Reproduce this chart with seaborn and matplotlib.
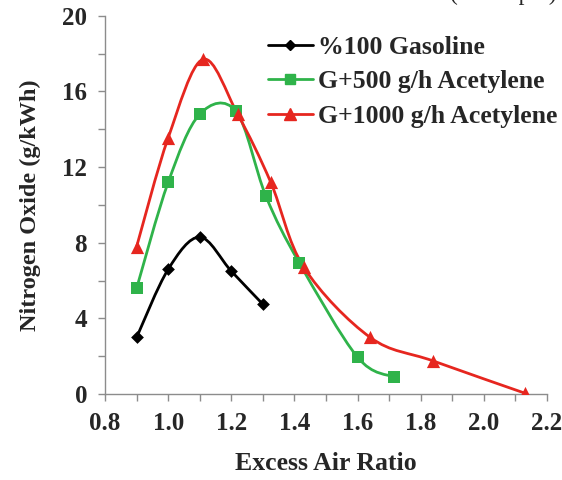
import numpy as np
import pandas as pd
import seaborn as sn
import matplotlib.pyplot as plt
from matplotlib.path import Path
from matplotlib.patches import PathPatch
from matplotlib.lines import Line2D
from matplotlib.ticker import MultipleLocator

# excess air ratio / NOx (g/kWh)
gasoline_x = [0.90, 1.00, 1.10, 1.20, 1.30]
gasoline_y = [3.0, 6.6, 8.3, 6.5, 4.75]

g500_x = [0.90, 1.00, 1.10, 1.215, 1.31, 1.415, 1.60, 1.715]
g500_y = [5.6, 11.2, 14.8, 14.95, 10.45, 6.95, 1.95, 0.9]

g1000_x = [0.90, 1.00, 1.11, 1.22, 1.325, 1.43, 1.64, 1.84, 2.13]
g1000_y = [7.8, 13.55, 17.7, 14.8, 11.2, 6.7, 3.0, 1.75, 0.05]

series = ['%100 Gasoline', 'G+500 g/h Acetylene', 'G+1000 g/h Acetylene']
colors = ['black', '#2fb34a', '#e6261f']
markers = ['D', 's', '^']
msizes = [6.5, 8.5, 9.5]


def smooth_path(x, y):
    # excel style smoothed line: cubic bezier, catmull-rom tangents
    pts = np.column_stack([x, y])
    verts = [pts[0]]
    codes = [Path.MOVETO]
    n = len(pts)
    for i in range(n - 1):
        p0 = pts[i - 1] if i > 0 else pts[i]
        p1, p2 = pts[i], pts[i + 1]
        p3 = pts[i + 2] if i + 2 < n else pts[i + 1]
        verts += [p1 + (p2 - p0) / 6, p2 - (p3 - p1) / 6, p2]
        codes += [Path.CURVE4] * 3
    return Path(verts, codes)


df = pd.concat([
    pd.DataFrame({'ratio': gasoline_x, 'nox': gasoline_y, 'fuel': series[0]}),
    pd.DataFrame({'ratio': g500_x, 'nox': g500_y, 'fuel': series[1]}),
    pd.DataFrame({'ratio': g1000_x, 'nox': g1000_y, 'fuel': series[2]}),
])

sn.set_style('white')
plt.rcParams['font.family'] = ['Liberation Serif', 'DejaVu Serif']

fig = plt.figure(figsize=(5.62, 4.80), dpi=100)
ax = fig.add_axes([0.187, 0.179, 0.786, 0.788])

for (xs, ys), c in zip([(gasoline_x, gasoline_y), (g500_x, g500_y), (g1000_x, g1000_y)], colors):
    ax.add_patch(PathPatch(smooth_path(xs, ys), facecolor='none', edgecolor=c, lw=2.0, zorder=2))

for name, c, m, s in zip(series, colors, markers, msizes):
    sub = df[df['fuel'] == name]
    sn.scatterplot(data=sub, x='ratio', y='nox', ax=ax, color=c, marker=m,
                   s=s ** 2, edgecolor=c, linewidth=0, zorder=3, legend=False)

ax.set_xlim(0.8, 2.2)
ax.set_ylim(0, 20)
ax.xaxis.set_minor_locator(MultipleLocator(0.1))
ax.yaxis.set_major_locator(MultipleLocator(4))
ax.yaxis.set_minor_locator(MultipleLocator(2))
xt = np.arange(0.8, 2.21, 0.2)
ax.set_xticks(xt)
ax.set_xticklabels([f'{v:.1f}' for v in xt])

for side in ['top', 'right']:
    ax.spines[side].set_visible(False)
for side in ['left', 'bottom']:
    ax.spines[side].set_color('#8c8c8c')
    ax.spines[side].set_linewidth(1.0)
ax.tick_params(which='both', direction='out', length=5, width=1.0, color='#8c8c8c',
               labelsize=18, bottom=True, left=True)
ax.tick_params(axis='x', pad=8)
ax.tick_params(axis='y', pad=8)
for lbl in ax.get_xticklabels() + ax.get_yticklabels():
    lbl.set_fontweight('bold')

ax.set_xlabel('Excess Air Ratio', fontsize=18.5, fontweight='bold', labelpad=12)
ax.set_ylabel('Nitrogen Oxide (g/kWh)', fontsize=17.5, fontweight='bold', labelpad=15)

handles = [Line2D([], [], color=c, marker=m, markersize=s * 0.85, lw=2.0)
           for c, m, s in zip(colors, markers, msizes)]
leg = ax.legend(handles, series, loc='upper left', bbox_to_anchor=(0.368, 0.948),
                frameon=False, prop={'size': 18.5, 'weight': 'bold'},
                handlelength=1.75, handletextpad=0.2,
                labelspacing=0.45, borderpad=0, borderaxespad=0)

# clipped caption fragment at the top edge of the source image
fig.text(0.80, 1.012, '(3000 rpm)', fontsize=17, va='center', ha='left')

plt.savefig('out.png', dpi=100)
plt.close()
